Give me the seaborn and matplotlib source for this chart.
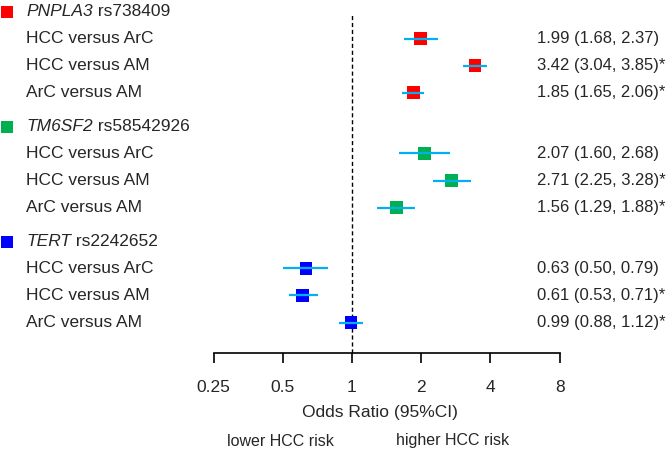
import numpy as np
import pandas as pd
import seaborn as sns
import matplotlib.pyplot as plt

# data
genes = ["PNPLA3", "TM6SF2", "TERT"]
snps = ["rs738409", "rs58542926", "rs2242652"]
comparisons = ["HCC versus ArC", "HCC versus AM", "ArC versus AM"]
odds = [1.99, 3.42, 1.85, 2.07, 2.71, 1.56, 0.63, 0.61, 0.99]
lower = [1.68, 3.04, 1.65, 1.60, 2.25, 1.29, 0.50, 0.53, 0.88]
upper = [2.37, 3.85, 2.06, 2.68, 3.28, 1.88, 0.79, 0.71, 1.12]
signif = [False, True, True, False, True, True, False, True, True]
ticks = [0.25, 0.5, 1, 2, 4, 8]
gene_colors = ["#ff0000", "#00b050", "#0000ff"]
ci_color = "#00b0f0"

sns.set_theme(style="white")
plt.rcParams["font.family"] = ["Liberation Sans", "DejaVu Sans"]
fs = 12.5

# row positions: header then three rows per gene
group_step = 4.25
rows = []
for g, gene in enumerate(genes):
    for c, comp in enumerate(comparisons):
        i = g * 3 + c
        rows.append({"gene": gene, "comp": comp, "pos": g * group_step + c + 0.98,
                     "or": odds[i], "lo": lower[i], "hi": upper[i], "sig": signif[i]})
df = pd.DataFrame(rows)

fig = plt.figure(figsize=(6.72, 4.53), dpi=100)
ax = fig.add_axes([0, 1 - 353 / 453, 1, 353 / 453])

px_per_doub = 69.2
ax.set_xscale("log", base=2)
ax.set_xlim(2 ** (-352 / px_per_doub), 2 ** ((672 - 352) / px_per_doub))
unit = 27.05
ax.set_ylim((353 - 12) / unit, -12 / unit)

ax.axvline(1, ymin=0, ymax=1 - 15 / 353, color="black", lw=1, ls=(0, (3, 2)), zorder=1)

sns.scatterplot(data=df, x="or", y="pos", hue="gene", palette=dict(zip(genes, gene_colors)),
                marker="s", s=80, linewidth=0, legend=False, ax=ax, zorder=2)
ax.hlines(df["pos"], df["lo"], df["hi"], color=ci_color, lw=1.6, zorder=3)

for spine in ["top", "left", "right"]:
    ax.spines[spine].set_visible(False)
ax.spines["bottom"].set_bounds(0.25, 8)
ax.spines["bottom"].set_color("black")
ax.spines["bottom"].set_linewidth(1.2)
ax.set_xticks(ticks)
ax.set_xticklabels([f"{t:g}" for t in ticks], fontsize=fs)
ax.minorticks_off()
ax.tick_params(axis="x", direction="out", length=7.5, width=1.2, color="black", pad=12, bottom=True)
ax.set_yticks([])
ax.set_xlabel("")
ax.set_ylabel("")

trans = ax.get_yaxis_transform()
xt = lambda px: px / 672

for g, gene in enumerate(genes):
    hp = g * group_step
    ax.scatter([xt(7)], [hp], marker="s", s=85, color=gene_colors[g], transform=trans,
               clip_on=False, linewidth=0)
    t = ax.text(xt(26), hp, gene, style="italic", fontsize=fs, va="center", ha="left",
                transform=trans)
    ax.annotate(" " + snps[g], xy=(1, 0.5), xycoords=t, va="center", ha="left", fontsize=fs)

for _, r in df.iterrows():
    ax.text(xt(26), r["pos"], r["comp"], fontsize=fs, va="center", ha="left", transform=trans)
    lab = f"{r['or']:.2f} ({r['lo']:.2f}, {r['hi']:.2f})" + ("*" if r["sig"] else "")
    ax.text(xt(537), r["pos"], lab, fontsize=12, va="center", ha="left", transform=trans)

fig.text(380 / 672, 1 - 412 / 453, "Odds Ratio (95%CI)", fontsize=fs, ha="center", va="center")
fig.text(280 / 672, 1 - 441 / 453, "lower HCC risk", fontsize=fs - 1, ha="center", va="center")
fig.text(453 / 672, 1 - 441 / 453, "higher HCC risk", fontsize=fs - 1, ha="center", va="center")

fig.savefig("out.png", dpi=100)
